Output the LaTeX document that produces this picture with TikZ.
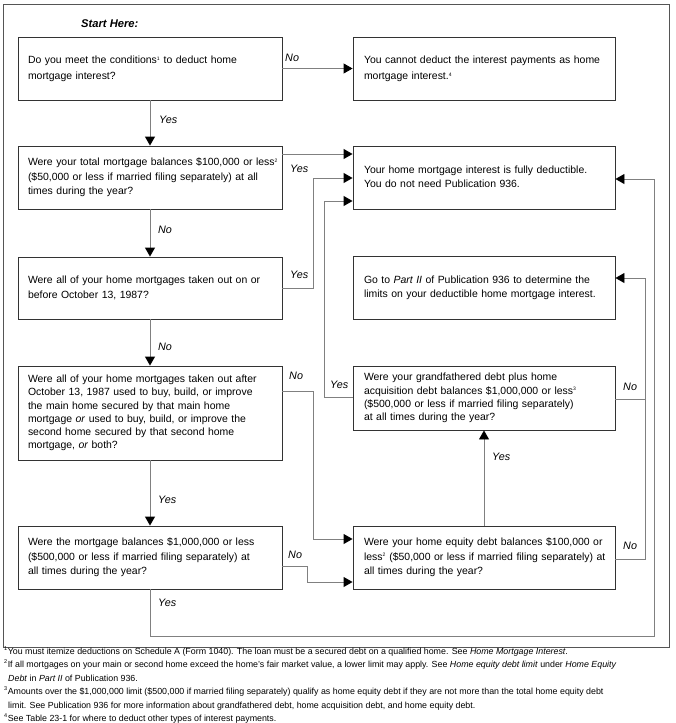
\documentclass[tikz,border=0pt]{standalone}
\usepackage{fontspec}
\setmainfont{Liberation Sans}
\usetikzlibrary{arrows.meta}
\definecolor{boxc}{HTML}{333333}
\definecolor{linec}{HTML}{808080}
\definecolor{framec}{HTML}{555555}
\newcommand{\fnm}[1]{\textsuperscript{\fontsize{5}{5}\selectfont #1}}
\newcommand{\fnmb}[1]{\textsuperscript{\fontsize{5.5}{5.5}\selectfont #1}}
\newenvironment{lines}{\begin{tabular}{@{}l@{}}}{\end{tabular}}
\begin{document}
\begin{tikzpicture}[x=1pt,y=-1pt,
  box/.style={draw=boxc, line width=0.9pt, inner xsep=10pt, inner ysep=2pt,
    align=left, text width=244pt, minimum height=63pt,
    font=\fontsize{10.45}{14.5}\selectfont},
  rbox/.style={box, inner xsep=11pt, text width=240pt},
  conn/.style={draw=linec, line width=0.9pt},
  arr/.style={conn, -{Triangle[length=9pt,width=10pt,color=black]}},
  lab/.style={font=\fontsize{10.8}{12}\selectfont\itshape, inner sep=0pt, anchor=west},
  fn/.style={font=\fontsize{8.85}{10}\selectfont, inner sep=0pt, anchor=base west}
]
\useasboundingbox (0,0) rectangle (675,723);
% frame
\draw[framec, line width=0.9pt] (3,4) rectangle (669,647);

\node[font=\fontsize{11.2}{12}\selectfont\bfseries\itshape, inner sep=0pt, anchor=west] (start) at (81,24) {Start Here:};

% left column
\node[box, font=\fontsize{10.45}{16}\selectfont] (b1) at (150,68.5) {\begin{lines}Do you meet the conditions\fnm{1} to deduct home\\mortgage interest?\end{lines}};
\node[box] (b2) at (150,177.5) {\begin{lines}Were your total mortgage balances \$100,000 or less\fnm{2}\\(\$50,000 or less if married filing separately) at all\\times during the year?\end{lines}};
\node[box, minimum height=62pt] (b3) at (150,288) {\begin{lines}Were all of your home mortgages taken out on or\\before October 13, 1987?\end{lines}};
\node[box, minimum height=94pt, font=\fontsize{10.45}{13.3}\selectfont] (b4) at (150,413) {\begin{lines}Were all of your home mortgages taken out after\\October 13, 1987 used to buy, build, or improve\\the main home secured by that main home\\mortgage \emph{or} used to buy, build, or improve the\\second home secured by that second home\\mortgage, \emph{or} both?\end{lines}};
\node[box] (b5) at (150,557.5) {\begin{lines}Were the mortgage balances \$1,000,000 or less\\(\$500,000 or less if married filing separately) at\\all times during the year?\end{lines}};

% right column
\node[rbox, font=\fontsize{10.45}{16}\selectfont] (r1) at (484,68.5) {\begin{lines}You cannot deduct the interest payments as home\\mortgage interest.\fnm{4}\end{lines}};
\node[rbox] (r2) at (484,177.5) {\begin{lines}Your home mortgage interest is fully deductible.\\You do not need Publication 936.\end{lines}};
\node[rbox] (r3) at (484,287.5) {\begin{lines}Go to \emph{Part II} of Publication 936 to determine the\\limits on your deductible home mortgage interest.\end{lines}};
\node[rbox, minimum height=64pt, font=\fontsize{10.45}{13.3}\selectfont] (r4) at (484,398) {\begin{lines}Were your grandfathered debt plus home\\acquisition debt balances \$1,000,000 or less\fnm{3}\\(\$500,000 or less if married filing separately)\\at all times during the year?\end{lines}};
\node[rbox] (r5) at (484,557.5) {\begin{lines}Were your home equity debt balances \$100,000 or\\less\fnm{2} (\$50,000 or less if married filing separately) at\\all times during the year?\end{lines}};

% helper coordinates
\coordinate (c154) at (0,154);
\coordinate (c178) at (313,178);
\coordinate (c201) at (324,201);
\coordinate (c288) at (313,288);
\coordinate (c397) at (324,397);
\coordinate (c391) at (313,391);
\coordinate (c539) at (313,539);
\coordinate (c566) at (307,566);
\coordinate (c582) at (307,582);
\coordinate (c636l) at (150,636);
\coordinate (c636r) at (654,636);
\coordinate (c179) at (654,179);
\coordinate (c399) at (645,399);
\coordinate (c278) at (645,278);
\coordinate (c559) at (645,559);

% vertical chain
\draw[arr] (b1) -- (b2);
\draw[arr] (b2) -- (b3);
\draw[arr] (b3) -- (b4);
\draw[arr] (b4) -- (b5);
\draw[arr] (r5.north) -- (r4.south);

% horizontals
\draw[arr] (b1.east) -- (r1.west);
\draw[arr] (b2.east |- c154) -- (r2.west |- c154);
\draw[arr] (b3.east |- c288) -- (c288) -- (c178) -- (r2.west |- c178);
\draw[arr] (r4.west |- c397) -- (c397) -- (c201) -- (r2.west |- c201);
\draw[arr] (b4.east |- c391) -- (c391) -- (c539) -- (r5.west |- c539);
\draw[arr] (b5.east |- c566) -- (c566) -- (c582) -- (r5.west |- c582);
\draw[arr] (b5.south) -- (c636l) -- (c636r) -- (c179) -- (r2.east |- c179);
\draw[arr] (r4.east |- c399) -- (c399) -- (c278) -- (r3.east |- c278);
\draw[conn] (r5.east |- c559) -- (c559) -- (c399);

% labels
\node[lab] (l1) at (285,58) {No};
\node[lab] (l2) at (159,120) {Yes};
\node[lab] (l3) at (290,169) {Yes};
\node[lab] (l4) at (158,230) {No};
\node[lab] (l5) at (290,275) {Yes};
\node[lab] (l6) at (158,347) {No};
\node[lab] (l7) at (289,376) {No};
\node[lab] (l8) at (330,385) {Yes};
\node[lab] (l9) at (623,387) {No};
\node[lab] (l10) at (492,457) {Yes};
\node[lab] (l11) at (158,500) {Yes};
\node[lab] (l12) at (623,546) {No};
\node[lab] (l13) at (288,555) {No};
\node[lab] (l14) at (158,603) {Yes};

% footnotes
\node[fn] (f1) at (4,654) {\fnmb{1}You must itemize deductions on Schedule A (Form 1040). The loan must be a secured debt on a qualified home. See \emph{Home Mortgage Interest}.};
\node[fn] (f2) at (4,667.5) {\fnmb{2}If all mortgages on your main or second home exceed the home's fair market value, a lower limit may apply. See \emph{Home equity debt limit} under \emph{Home Equity}};
\node[fn] (f2b) at (8,681) {\emph{Debt} in \emph{Part II} of Publication 936.};
\node[fn] (f3) at (4,694.5) {\fnmb{3}Amounts over the \$1,000,000 limit (\$500,000 if married filing separately) qualify as home equity debt if they are not more than the total home equity debt};
\node[fn] (f3b) at (8,708) {limit. See Publication 936 for more information about grandfathered debt, home acquisition debt, and home equity debt.};
\node[fn] (f4) at (4,721) {\fnmb{4}See Table 23-1 for where to deduct other types of interest payments.};
\end{tikzpicture}
\end{document}
